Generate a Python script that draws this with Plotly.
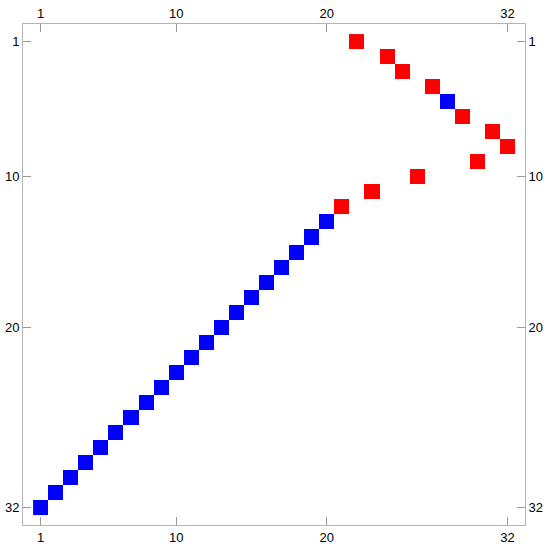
import plotly.graph_objects as go

# row index (1 = top) and the column holding the nonzero entry in that row
rows = list(range(1, 33))
cols = [22, 24, 25, 27, 28, 29, 31, 32, 30, 26, 23, 21,
        20, 19, 18, 17, 16, 15, 14, 13, 12, 11, 10, 9, 8, 7, 6, 5, 4, 3, 2, 1]
# sign of the entry: 1 -> blue, -1 -> red
signs = [-1, -1, -1, -1, 1, -1, -1, -1, -1, -1, -1, -1,
         1, 1, 1, 1, 1, 1, 1, 1, 1, 1, 1, 1, 1, 1, 1, 1, 1, 1, 1, 1]
tick_vals = [1, 10, 20, 32]

n = 32
z = [[None] * n for _ in range(n)]
for r, c, s in zip(rows, cols, signs):
    z[r - 1][c - 1] = s

fig = go.Figure()
fig.add_trace(go.Heatmap(
    x=list(range(1, n + 1)), y=list(range(1, n + 1)), z=z,
    zmin=-1, zmax=1,
    colorscale=[[0, '#ff0000'], [0.5, '#ff0000'], [0.5, '#0000ff'], [1, '#0000ff']],
    showscale=False, hoverongaps=False,
))

lo, hi = -0.17, 33.17
frame = '#b4b4b4'
axis_common = dict(
    tickvals=tick_vals, ticks='inside', ticklen=8, tickcolor='#999999',
    showgrid=False, zeroline=False, showline=True, linecolor=frame, linewidth=1,
    automargin=False,
    tickfont=dict(family='Liberation Sans, Arial, sans-serif', size=13, color='#000000'),
)
fig.update_layout(
    width=550, height=547,
    margin=dict(l=23, r=25, t=24, b=22),
    paper_bgcolor='white', plot_bgcolor='white',
    showlegend=False,
    xaxis=dict(range=[lo, hi], side='bottom', **axis_common),
    xaxis2=dict(range=[lo, hi], side='top', overlaying='x', matches='x', **axis_common),
    yaxis=dict(range=[hi, lo], side='left', **axis_common),
    yaxis2=dict(range=[hi, lo], side='right', overlaying='y', matches='y', **axis_common),
)
# invisible trace so the top/right axes are drawn
fig.add_trace(go.Scatter(x=[None], y=[None], xaxis='x2', yaxis='y2', showlegend=False))

# drop the browser's default body margin so the figure fills the window
fig.write_html("out.html", config={'displayModeBar': False},
               post_script="document.body.style.margin='0';")
